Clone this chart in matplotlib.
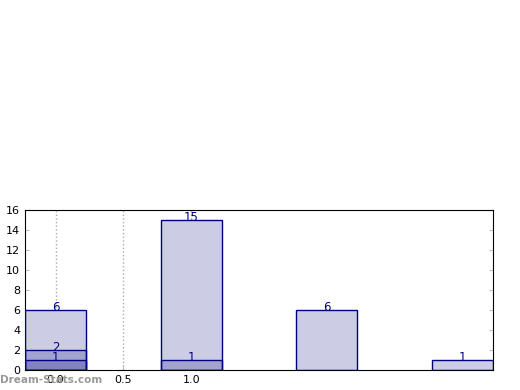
import matplotlib
matplotlib.use("Agg")
import matplotlib.pyplot as plt

positions = [0, 1, 2, 3]
layer_a = [6, 15, 6, 1]
layer_b = [2, 1, 0, 0]
layer_c = [1, 0, 0, 0]
xtick_vals = [0.0, 0.5, 1.0]
xtick_labels = ["0.0", "0.5", "1.0"]
ytick_vals = list(range(0, 17, 2))

fig = plt.figure(figsize=(5.2, 3.9), dpi=100)
ax = fig.add_axes([25/520, 1-370/390, (493-25)/520, (370-210)/390])

# opaque white base so grid lines do not show through bars
ax.bar(positions, layer_a, width=0.45, color="white", edgecolor="none", zorder=1.5)
for layer in (layer_a, layer_b, layer_c):
    for x, v in zip(positions, layer):
        if v <= 0:
            continue
        ax.bar(x, v, width=0.45, color="navy", alpha=0.2, edgecolor="none", zorder=2)
        ax.bar(x, v, width=0.45, facecolor="none", edgecolor="navy", linewidth=1, zorder=3)
        ax.annotate(str(v), (x, v), xytext=(0, 2), textcoords="offset points",
                    ha="center", va="center", color="navy", fontsize=8.5, zorder=4)

ax.set_xlim(-0.225, 3.225)
ax.set_ylim(0, 16)
ax.set_yticks(ytick_vals)
ax.set_xticks(xtick_vals)
ax.set_xticklabels(xtick_labels)
ax.tick_params(labelsize=8, direction="in", color="#bbbbbb", length=3, right=True, top=False)
ax.xaxis.grid(True, linestyle=":", color="#aaaaaa", linewidth=1, zorder=0)
ax.set_axisbelow(True)

fig.text(0.0, 1-380/390, "Dream-Stats.com", fontsize=7.5, color="#999999",
         fontweight="bold", ha="left", va="center")

fig.savefig("out.png", dpi=100)
